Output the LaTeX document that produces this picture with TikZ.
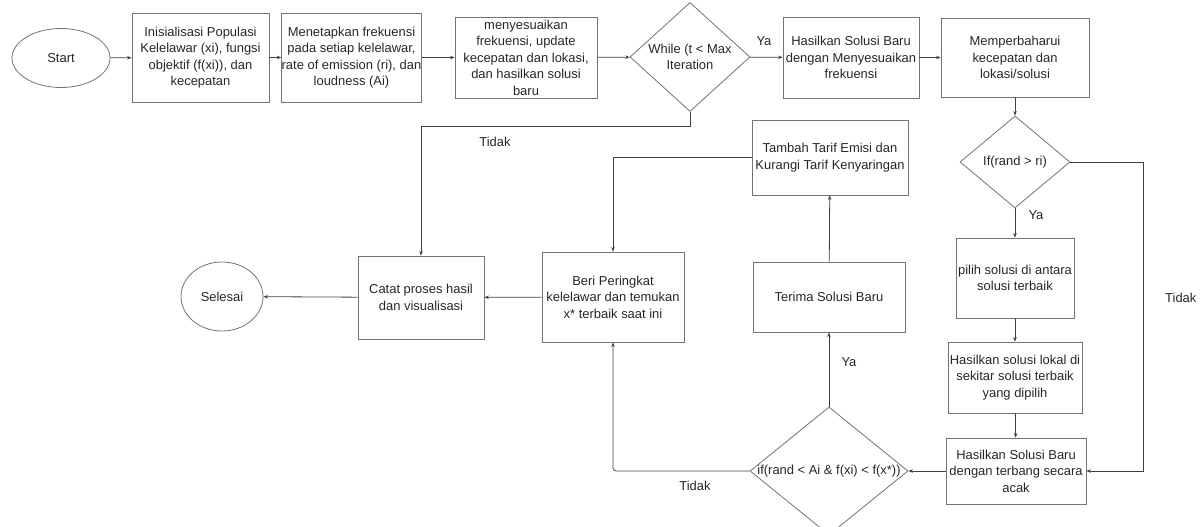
\documentclass[tikz,border=0pt]{standalone}
\usepackage{fontspec}
\setmainfont{Liberation Sans}
\usetikzlibrary{shapes.geometric,arrows.meta}
\begin{document}
\begin{tikzpicture}[x=1bp,y=-1bp,
  every node/.style={font=\fontsize{13}{16.5}\selectfont, text=black!85},
  box/.style={draw=black!55, line width=0.8bp, rectangle, inner sep=0pt, align=center},
  term/.style={draw=black!55, line width=0.8bp, ellipse, inner sep=0pt, align=center},
  dec/.style={draw=black!55, line width=0.8bp, diamond, inner sep=0pt, align=center},
  conn/.style={draw=black!75, line width=0.8bp, -{Stealth[length=4.5bp,width=3.5bp]}},
  lbl/.style={inner sep=0pt}
]
\useasboundingbox (0,0) rectangle (1202,527);
\clip (0,0) rectangle (1202,527);

\node[term, minimum width=98bp, minimum height=59bp] (start) at (61,58) {Start};
\node[box, minimum width=137bp, minimum height=89bp] (b1) at (200.5,57.5) {Inisialisasi Populasi\\Kelelawar (xi), fungsi\\objektif (f(xi)), dan\\kecepatan};
\node[box, minimum width=135bp, minimum height=89bp] (b2) at (351.5,57.5) {Menetapkan frekuensi\\pada setiap kelelawar,\\rate of emission (ri), dan\\loudness (Ai)};
\node[box, minimum width=142bp, minimum height=81bp] (b3) at (526,57.5) {menyesuaikan\\frekuensi, update\\kecepatan dan lokasi,\\dan hasilkan solusi\\baru};
\node[dec, minimum width=120bp, minimum height=88bp] (d1) at (690,57) {While (t < Max\\Iteration};
\node[box, minimum width=136bp, minimum height=81bp] (b4) at (851,57.5) {Hasilkan Solusi Baru\\dengan Menyesuaikan\\frekuensi};
\node[box, minimum width=148bp, minimum height=79bp] (b5) at (1015,57.5) {Memperbaharui\\kecepatan dan\\lokasi/solusi};
\node[dec, minimum width=110bp, minimum height=92bp] (d2) at (1015,162) {If(rand > ri)};
\node[box, minimum width=118bp, minimum height=80bp] (b6) at (1015,278) {pilih solusi di antara\\solusi terbaik};
\node[box, minimum width=134bp, minimum height=71bp] (b7) at (1015,377.5) {Hasilkan solusi lokal di\\sekitar solusi terbaik\\yang dipilih};
\node[box, minimum width=140bp, minimum height=66bp] (b8) at (1016,471) {Hasilkan Solusi Baru\\dengan terbang secara\\acak};
\node[dec, minimum width=158bp, minimum height=128bp] (d3) at (829,471) {};
\node[lbl] (d3t) at (829,471) {if(rand < Ai \& f(xi) < f(x*))};
\node[box, minimum width=152bp, minimum height=70bp] (b9) at (829,297) {Terima Solusi Baru};
\node[box, minimum width=156bp, minimum height=75bp] (b10) at (830,157.5) {Tambah Tarif Emisi dan\\Kurangi Tarif Kenyaringan};
\node[box, minimum width=142bp, minimum height=90bp] (b11) at (613,297) {Beri Peringkat\\kelelawar dan temukan\\x* terbaik saat ini};
\node[box, minimum width=126bp, minimum height=83bp] (b12) at (421,297.5) {Catat proses hasil\\dan visualisasi};
\node[term, minimum width=82bp, minimum height=69bp] (end) at (222,296.5) {Selesai};

\coordinate (r1) at (1143,162);
\coordinate (t1) at (690,126);

\draw[conn] (start) -- (b1);
\draw[conn] (b1) -- (b2);
\draw[conn] (b2) -- (b3);
\draw[conn] (b3) -- (d1);
\draw[conn] (d1) -- (b4);
\node[lbl] (ya1) at (764,41) {Ya};
\draw[conn] (b4) -- (b5);
\draw[conn] (b5) -- (d2);
\draw[conn] (d2) -- (b6);
\node[lbl] (ya2) at (1036,215) {Ya};
\draw[conn] (b6) -- (b7);
\draw[conn] (b7) -- (b8);
\draw[conn] (d2.east) -- (r1) |- (b8.east);
\node[lbl, anchor=west] (tdk1) at (1165,298) {Tidak};
\draw[conn] (b8) -- (d3.east);
\draw[conn] (d3.north) -- (b9);
\node[lbl] (ya3) at (849,362) {Ya};
\draw[conn] (b9) -- (b10);
\draw[conn] (b10.west) -| (b11.north);
\draw[conn] (b11) -- (b12);
\draw[conn] (b12) -- (end);
\draw[conn] (d1.south) -- (t1) -| (b12.north);
\node[lbl] (tdk2) at (495,142) {Tidak};
\draw[conn, rounded corners=3bp] (d3.west) -| (b11.south);
\node[lbl] (tdk3) at (695,486) {Tidak};
\end{tikzpicture}
\end{document}
